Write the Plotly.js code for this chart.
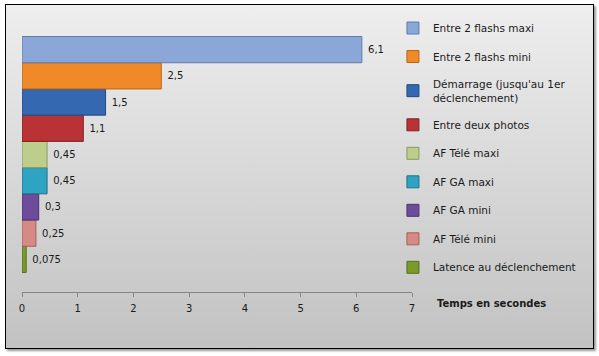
<!DOCTYPE html>
<html>
<head>
<meta charset="utf-8">
<script src="https://cdn.plot.ly/plotly-3.0.1.min.js"></script>
<style>
  html, body { margin: 0; padding: 0; background: #ffffff; }
  #wrap { position: relative; width: 599px; height: 356px; }
  #frame { position: absolute; left: 5px; top: 4px; width: 587px; height: 343px;
           border: 1px solid #000; background: linear-gradient(#eeeeee, #c2c2c2);
           box-shadow: 2px 2px 2px #9a9a9a; }
  #chart { position: absolute; left: 0; top: 0; width: 599px; height: 356px; }
</style>
</head>
<body>
<div id="wrap"><div id="frame"></div><div id="chart"></div></div>
<script>
// Series listed from bottom bar to top bar
const seriesNames = [
  "Latence au déclenchement",
  "AF Télé mini",
  "AF GA mini",
  "AF GA maxi",
  "AF Télé maxi",
  "Entre deux photos",
  "Démarrage (jusqu'au 1er<br>déclenchement)",
  "Entre 2 flashs mini",
  "Entre 2 flashs maxi"
];
const seriesValues = [0.075, 0.25, 0.3, 0.45, 0.45, 1.1, 1.5, 2.5, 6.1];
const fillColors = ["#7a9a2a", "#d68a86", "#6e4c9c", "#2ea3c2", "#bccd8c", "#b83236", "#3468b0", "#f08a28", "#8aa7d8"];
const lineColors = ["#56701c", "#a55e5b", "#4b3270", "#1f7088", "#8b9a60", "#7e2224", "#23497e", "#b8651a", "#5f7cae"];
const xTicks = [0, 1, 2, 3, 4, 5, 6, 7];
const axisTitle = "Temps en secondes";

const font = "DejaVu Sans, Verdana, sans-serif";

const traces = seriesNames.map((name, i) => ({
  type: "bar",
  orientation: "h",
  name: name,
  legendgroup: "g" + i,
  legendrank: 100 - i,
  y: ["c"],
  x: [seriesValues[i]],
  text: [" " + String(seriesValues[i]).replace(".", ",")],
  textposition: "outside",
  cliponaxis: false,
  textfont: { family: font, size: 10, color: "#1a1a1a" },
  marker: { color: fillColors[i], line: { color: lineColors[i], width: 1 } },
  hoverinfo: "x+name"
}));

const layout = {
  width: 599, height: 356,
  margin: { l: 22, r: 187, t: 17, b: 64, autoexpand: false },
  paper_bgcolor: "rgba(0,0,0,0)",
  plot_bgcolor: "rgba(0,0,0,0)",
  barmode: "group",
  bargap: 0.142,
  bargroupgap: 0,
  separators: ", ",
  font: { family: font, size: 10, color: "#1a1a1a" },
  xaxis: {
    range: [0, 7],
    tickvals: xTicks,
    ticktext: xTicks.map(String),
    showgrid: false, zeroline: false,
    showline: true, linecolor: "#868686", linewidth: 1,
    ticks: "outside", ticklen: 4, tickcolor: "#868686",
    ticklabelstandoff: 3,
    tickfont: { family: font, size: 10, color: "#1a1a1a" },
    fixedrange: true
  },
  yaxis: {
    type: "category", range: [-0.5, 0.5],
    showticklabels: false, showgrid: false, zeroline: false, showline: false, ticks: "",
    fixedrange: true
  },
  showlegend: true,
  legend: {
    xref: "container", yref: "container",
    x: 0.656, xanchor: "left", y: 0.962, yanchor: "top",
    traceorder: "grouped",
    tracegroupgap: 9.5,
    maxheight: 1,
    bgcolor: "rgba(0,0,0,0)",
    font: { family: font, size: 10.5, color: "#1a1a1a" }
  },
  annotations: [{
    xref: "paper", yref: "paper", x: 1.059, y: -0.04,
    xanchor: "left", yanchor: "middle", showarrow: false,
    text: "<b>" + axisTitle + "</b>",
    font: { family: font, size: 10, color: "#1a1a1a" }
  }]
};

Plotly.newPlot("chart", traces, layout, { displayModeBar: false, staticPlot: true });
</script>
</body>
</html>
